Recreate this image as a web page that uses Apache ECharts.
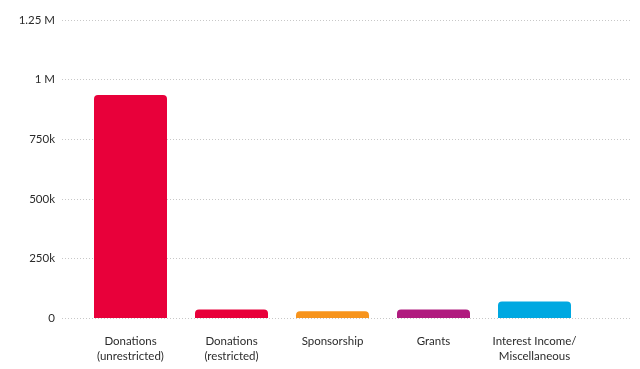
<!DOCTYPE html>
<html><head><meta charset="utf-8">
<script src="https://cdn.jsdelivr.net/npm/echarts@6/dist/echarts.min.js"></script>
<style>html,body{margin:0;padding:0;background:#fff}#c{width:640px;height:369px}</style>
</head><body><div id="c"></div>
<script>
const categories = ['Donations\n(unrestricted)', 'Donations\n(restricted)', 'Sponsorship', 'Grants', 'Interest Income/\nMiscellaneous'];
const values = [935000, 36000, 28000, 36000, 69000];
const colors = ['#E8003A', '#E8003A', '#F7941D', '#B01C7F', '#00A8E1'];
const yTicks = [0, 250000, 500000, 750000, 1000000, 1250000];
const yLabels = {0:'0', 250000:'250k', 500000:'500k', 750000:'750k', 1000000:'1 M', 1250000:'1.25 M'};

const font = 'Lato';
const chart = echarts.init(document.getElementById('c'));
chart.setOption({
  animation: false,
  textStyle: { fontFamily: font },
  grid: [
    { left: 62, right: 10, top: 20, bottom: 51, containLabel: false },
    { left: 80, right: 55, top: 20, bottom: 51, containLabel: false }
  ],
  xAxis: [
    { type: 'category', gridIndex: 0, data: [''], show: false },
    { type: 'category', gridIndex: 1, data: categories,
      axisLine: { show: false }, axisTick: { show: false },
      axisLabel: { color: '#2b2b2b', fontSize: 11.5, fontFamily: font, margin: 16, lineHeight: 15, interval: 0 } }
  ],
  yAxis: [
    { type: 'value', gridIndex: 0, min: yTicks[0], max: yTicks[yTicks.length-1], interval: 250000,
      axisLine: { show: false }, axisTick: { show: false },
      axisLabel: { color: '#2b2b2b', fontSize: 11.5, fontFamily: font, margin: 7, formatter: v => yLabels[v] },
      splitLine: { lineStyle: { color: '#c8c8c8', type: [1, 2], width: 1 } } },
    { type: 'value', gridIndex: 1, min: yTicks[0], max: yTicks[yTicks.length-1], interval: 250000, show: false,
      splitLine: { show: false } }
  ],
  series: [{
    type: 'bar', xAxisIndex: 1, yAxisIndex: 1,
    barWidth: 73,
    data: values.map((v, i) => ({ value: v, itemStyle: { color: colors[i], borderRadius: [4, 4, 0, 0] } }))
  }]
});
</script></body></html>
